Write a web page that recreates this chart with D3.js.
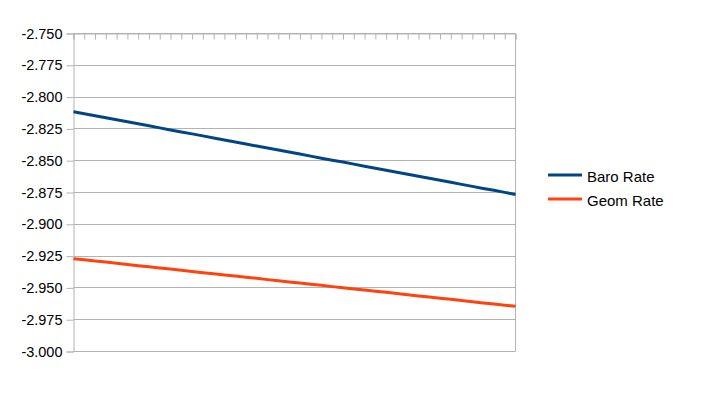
<!DOCTYPE html>
<html><head><meta charset="utf-8">
<script src="https://cdn.jsdelivr.net/npm/d3@7"></script>
<style>body{margin:0;background:#fff}svg{display:block}text{font-family:"Liberation Sans",Arial,sans-serif}</style>
</head><body>
<script>
const categories = d3.range(1, 43);
const baroRate = [-2.8115,-2.8131,-2.8147,-2.8163,-2.8178,-2.8194,-2.8210,-2.8226,-2.8242,-2.8258,-2.8274,-2.8289,-2.8305,-2.8321,-2.8337,-2.8353,-2.8369,-2.8385,-2.8400,-2.8416,-2.8432,-2.8448,-2.8464,-2.8480,-2.8496,-2.8511,-2.8527,-2.8543,-2.8559,-2.8575,-2.8591,-2.8607,-2.8622,-2.8638,-2.8654,-2.8670,-2.8686,-2.8702,-2.8718,-2.8733,-2.8749,-2.8765];
const geomRate = [-2.9270,-2.9279,-2.9288,-2.9297,-2.9307,-2.9316,-2.9325,-2.9334,-2.9343,-2.9352,-2.9361,-2.9371,-2.9380,-2.9389,-2.9398,-2.9407,-2.9416,-2.9425,-2.9435,-2.9444,-2.9453,-2.9462,-2.9471,-2.9480,-2.9490,-2.9499,-2.9508,-2.9517,-2.9526,-2.9535,-2.9544,-2.9554,-2.9563,-2.9572,-2.9581,-2.9590,-2.9599,-2.9608,-2.9618,-2.9627,-2.9636,-2.9645];
const seriesNames = ["Baro Rate", "Geom Rate"];
const seriesColors = ["#004586", "#ff420e"];
const yTicks = [-3.000,-2.975,-2.950,-2.925,-2.900,-2.875,-2.850,-2.825,-2.800,-2.775,-2.750];

const W = 720, H = 413;
const pL = 73.5, pR = 515.5, pT = 33.5, pB = 351.5;
const svg = d3.select("body").append("svg").attr("width", W).attr("height", H);

const x = d3.scalePoint().domain(categories).range([pL, pR]);
const y = d3.scaleLinear().domain([-3.0, -2.75]).range([pB, pT]);

// gridlines
svg.append("g").selectAll("line").data(yTicks).join("line")
  .attr("x1", pL).attr("x2", pR)
  .attr("y1", d => Math.round(y(d) - 0.5) + 0.5).attr("y2", d => Math.round(y(d) - 0.5) + 0.5)
  .attr("stroke", "#b3b3b3").attr("stroke-width", 1);

// right border
svg.append("line").attr("x1", pR).attr("x2", pR).attr("y1", pT).attr("y2", pB)
  .attr("stroke", "#b3b3b3");

// y axis
const fmt = d3.format(".3f");
const yAxis = svg.append("g").attr("transform", `translate(${pL},0)`)
  .call(d3.axisLeft(y).tickValues(yTicks).tickFormat(d => fmt(d).replace("\u2212", "-")).tickSize(7).tickPadding(4));
yAxis.select(".domain").attr("stroke", "#b3b3b3");
yAxis.selectAll(".tick line").attr("stroke", "#b3b3b3");
yAxis.selectAll(".tick text").attr("font-size", 14.5).attr("fill", "#000")
  .attr("font-family", "'Liberation Sans', Arial, sans-serif");

// top x axis with inward ticks
const xAxis = svg.append("g").attr("transform", `translate(0,${pT})`)
  .call(d3.axisTop(x).tickValues(categories).tickSize(-6).tickFormat(""));
xAxis.select(".domain").attr("stroke", "#b3b3b3");
xAxis.selectAll(".tick line").attr("stroke", "#b3b3b3");

// lines
const line = d3.line().x((d, i) => x(categories[i])).y(d => y(d));
[baroRate, geomRate].forEach((s, k) => {
  svg.append("path").datum(s).attr("d", line).attr("fill", "none")
    .attr("stroke", seriesColors[k]).attr("stroke-width", 3);
});

// legend
const lg = svg.append("g");
seriesNames.forEach((n, k) => {
  const yy = 175 + k * 24;
  lg.append("line").attr("x1", 548).attr("x2", 582).attr("y1", yy).attr("y2", yy)
    .attr("stroke", seriesColors[k]).attr("stroke-width", 3);
  lg.append("text").attr("x", 587).attr("y", yy + 6.5).attr("font-size", 15).attr("fill", "#000").text(n);
});
</script>
</body></html>
